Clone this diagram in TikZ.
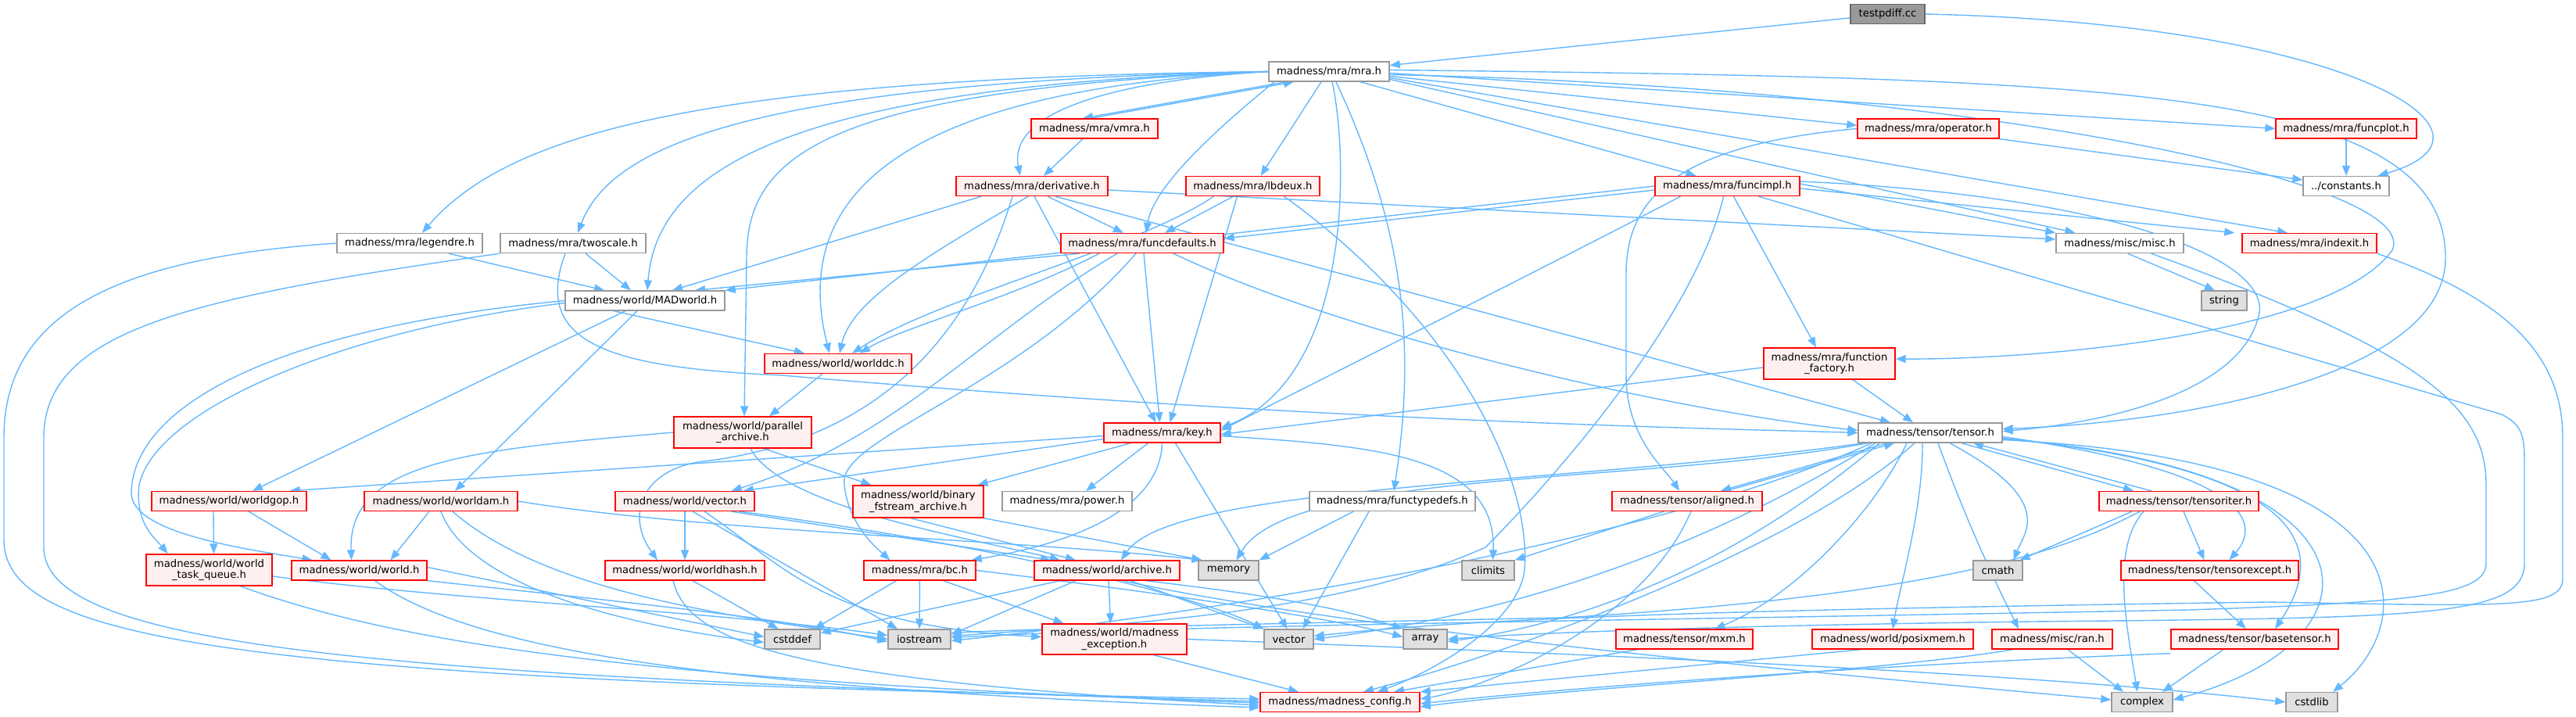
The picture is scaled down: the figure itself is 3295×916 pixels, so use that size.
\documentclass[tikz,border=0pt]{standalone}
\usepackage{fontspec}
\setmainfont{DejaVu Sans}
\usetikzlibrary{arrows.meta}
\definecolor{edgec}{RGB}{99,184,255}
\definecolor{redfill}{RGB}{255,240,240}
\definecolor{leaffill}{RGB}{224,224,224}
\definecolor{grayb}{RGB}{153,153,153}
\definecolor{rootfill}{RGB}{153,153,153}
\definecolor{rootb}{RGB}{102,102,102}
\pgfdeclarelayer{back}
\pgfdeclarelayer{bg}
\pgfsetlayers{back,bg,main}
\tikzset{
 nd/.style={draw, line width=1.4pt, inner sep=0pt, font=\fontsize{13.2}{14.5}\selectfont, align=center, minimum height=25pt},
 rednd/.style={nd, draw=red, fill=redfill},
 whnd/.style={nd, draw=grayb, fill=white},
 lfnd/.style={nd, draw=grayb, fill=leaffill},
 rtnd/.style={nd, draw=rootb, fill=rootfill},
 e/.style={draw=edgec, line width=1.4pt, -{Triangle[length=13pt,width=10pt]}},
}
\begin{document}
\begin{tikzpicture}[x=1pt,y=-1pt]
\begin{pgfonlayer}{back}
\fill[white] (0,0) rectangle (3295,916);
\end{pgfonlayer}
\useasboundingbox (0,0) rectangle (3295,916);
% nodes
\node[rtnd, minimum width=95pt] (test) at (2414.5,18) {testpdiff.cc};
\node[whnd, minimum width=154pt] (mra) at (1700,91.5) {madness/mra/mra.h};
\node[whnd, minimum width=186pt] (legendre) at (524,311) {madness/mra/legendre.h};
\node[whnd, minimum width=186pt] (twoscale) at (733,311) {madness/mra/twoscale.h};
\node[whnd, minimum width=204pt] (madworld) at (825,384.5) {madness/world/MADworld.h};
\node[rednd, minimum width=162pt] (vmra) at (1400,164.5) {madness/mra/vmra.h};
\node[rednd, minimum width=194pt] (deriv) at (1320,238) {madness/mra/derivative.h};
\node[rednd, minimum width=171pt] (lbdeux) at (1602.5,238) {madness/mra/lbdeux.h};
\node[rednd, minimum width=185pt] (funcimpl) at (2209.5,238) {madness/mra/funcimpl.h};
\node[rednd, minimum width=181pt] (operator) at (2466.5,164.5) {madness/mra/operator.h};
\node[rednd, minimum width=180pt] (funcplot) at (3001,164.5) {madness/mra/funcplot.h};
\node[whnd, minimum width=110pt] (const) at (3001,238) {../constants.h};
\node[rednd, minimum width=208pt] (funcdef) at (1461,311) {madness/mra/funcdefaults.h};
\node[whnd, minimum width=163pt] (misc) at (2711.5,311) {madness/misc/misc.h};
\node[rednd, minimum width=172pt] (indexit) at (2954,311) {madness/mra/indexit.h};
\node[lfnd, minimum width=58pt] (string) at (2845,384.5) {string};
\node[rednd, minimum width=188pt] (worlddc) at (1072,465) {madness/world/worlddc.h};
\node[rednd, minimum width=168pt, minimum height=40pt] (ffactory) at (2340,465) {madness/mra/function\\\_factory.h};
\node[rednd, minimum width=176pt, minimum height=40pt] (parch) at (950,553) {madness/world/parallel\\\_archive.h};
\node[rednd, minimum width=149pt] (key) at (1486.5,553.5) {madness/mra/key.h};
\node[whnd, minimum width=184pt] (tensor) at (2469,553.5) {madness/tensor/tensor.h};
\node[rednd, minimum width=198pt] (worldgop) at (293,641) {madness/world/worldgop.h};
\node[rednd, minimum width=196pt] (worldam) at (564,641) {madness/world/worldam.h};
\node[rednd, minimum width=178pt] (vech) at (876,641) {madness/world/vector.h};
\node[rednd, minimum width=167pt, minimum height=41pt] (binfs) at (1174.5,641.5) {madness/world/binary\\\_fstream\_archive.h};
\node[whnd, minimum width=166pt] (power) at (1365,641) {madness/mra/power.h};
\node[whnd, minimum width=212pt] (ftypedefs) at (1781,641) {madness/mra/functypedefs.h};
\node[rednd, minimum width=192pt] (aligned) at (2158,641) {madness/tensor/aligned.h};
\node[rednd, minimum width=204pt] (titer) at (2787,641) {madness/tensor/tensoriter.h};
\node[rednd, minimum width=161pt, minimum height=40pt] (wtq) at (267.5,729) {madness/world/world\\\_task\_queue.h};
\node[rednd, minimum width=173pt] (world) at (459.5,729.5) {madness/world/world.h};
\node[rednd, minimum width=204pt] (whash) at (876,729.5) {madness/world/worldhash.h};
\node[rednd, minimum width=143pt] (bc) at (1176.5,729.5) {madness/mra/bc.h};
\node[rednd, minimum width=186pt] (archive) at (1416,729.5) {madness/world/archive.h};
\node[lfnd, minimum width=77pt] (memory) at (1571.5,729.5) {memory};
\node[lfnd, minimum width=67pt] (climits) at (1903.5,729.5) {climits};
\node[lfnd, minimum width=63pt] (cmath) at (2555.5,729.5) {cmath};
\node[rednd, minimum width=227pt] (texcept) at (2826.5,729.5) {madness/tensor/tensorexcept.h};
\node[lfnd, minimum width=71pt] (cstddef) at (1013.5,817.5) {cstddef};
\node[lfnd, minimum width=80pt] (iostream) at (1176,817.5) {iostream};
\node[rednd, minimum width=185pt, minimum height=39pt] (mexc) at (1425.5,817.5) {madness/world/madness\\\_exception.h};
\node[lfnd, minimum width=63pt] (vector) at (1648.5,817.5) {vector};
\node[lfnd, minimum width=56pt] (array) at (1823,817.5) {array};
\node[rednd, minimum width=175pt] (mxm) at (2154.5,817.5) {madness/tensor/mxm.h};
\node[rednd, minimum width=206pt] (posixmem) at (2421,817.5) {madness/world/posixmem.h};
\node[rednd, minimum width=154pt] (ran) at (2625,817.5) {madness/misc/ran.h};
\node[rednd, minimum width=214pt] (btensor) at (2884,817.5) {madness/tensor/basetensor.h};
\node[rednd, minimum width=204pt] (config) at (1714,898) {madness/madness\_config.h};
\node[lfnd, minimum width=78pt] (complex) at (2740,898) {complex};
\node[lfnd, minimum width=66pt] (cstdlib) at (2957,898) {cstdlib};
% edges
\begin{pgfonlayer}{bg}
\draw[e] (test) -- (mra);
\draw[e] (test.east) .. controls (3000,30) and (3230,170) .. ([xshift=-15pt]const.north east);
% mra.h
\draw[e] (mra.west) .. controls (900,100) and (650,170) .. ([xshift=16pt]legendre.north);
\draw[e] (mra.west) .. controls (950,105) and (780,190) .. ([xshift=6pt]twoscale.north);
\draw[e] (mra.west) .. controls (1000,110) and (840,220) .. ([xshift=3pt]madworld.north);
\draw[e] (mra.west) .. controls (1050,115) and (955,200) .. (955,330) -- ([xshift=2pt]parch.north);
\draw[e] (mra.west) .. controls (1150,115) and (1010,250) .. ([xshift=-11pt]worlddc.north);
\draw[e] (mra.west) .. controls (1400,105) and (1290,150) .. ([xshift=-15pt]deriv.north);
\draw[e] ([xshift=-55pt]mra.south) -- ([xshift=-15pt]vmra.north);
\draw[e] ([xshift=-5pt]vmra.north) -- ([xshift=-45pt]mra.south);
\draw[e] ([xshift=-15pt]vmra.south) -- ([xshift=15pt]deriv.north);
\draw[e] ([xshift=-70pt]mra.south) .. controls (1550,170) and (1475,240) .. ([xshift=5pt]funcdef.north);
\draw[e] ([xshift=-10pt]mra.south) -- ([xshift=10pt]lbdeux.north);
\draw[e] ([xshift=4pt]mra.south) .. controls (1725,200) and (1730,480) .. ([yshift=6pt]key.east);
\draw[e] ([xshift=9pt]mra.south) .. controls (1800,300) and (1810,450) .. ([xshift=2pt]ftypedefs.north);
\draw[e] ([xshift=40pt]mra.south) -- ([xshift=-40pt]funcimpl.north);
\draw[e] ([yshift=-6pt]mra.east) -- ([yshift=4pt]operator.west);
\draw[e] ([yshift=-2pt]mra.east) -- (funcplot.west);
\draw[e] ([yshift=-8pt]mra.east) -- ([xshift=-28pt]indexit.north);
\draw[e] ([yshift=-10pt]mra.east) -- ([xshift=-57pt]misc.north);
\draw[e] ([yshift=2pt]mra.east) .. controls (2700,100) and (3128,110) .. (3128,330) .. controls (3128,480) and (2800,540) .. ([yshift=5pt]tensor.east);
\draw[e] ([yshift=-4pt]mra.east) .. controls (2500,110) and (3100,230) .. (3060,320) .. controls (2980,430) and (2600,460) .. ([yshift=6pt]ffactory.east);
% legendre, twoscale
\draw[e] ([xshift=50pt]legendre.south) -- ([xshift=-52pt]madworld.north);
\draw[e] (legendre.west) .. controls (150,330) and (5,400) .. (5,560) -- (5,690) .. controls (5,820) and (300,870) .. ([yshift=4pt]config.west);
\draw[e] ([xshift=16pt]twoscale.south) -- ([xshift=-18pt]madworld.north);
\draw[e] (twoscale.south west) .. controls (250,380) and (56,420) .. (56,560) -- (56,700) .. controls (56,830) and (500,865) .. ([yshift=1pt]config.west);
\draw[e] ([xshift=-10pt]twoscale.south) .. controls (680,440) and (780,470) .. (1000,480) .. controls (1700,540) and (2200,548) .. (tensor.west);
% MADworld
\draw[e] ([xshift=-40pt]madworld.south) -- ([xshift=-43pt]worlddc.north);
\draw[e] ([xshift=-25pt]madworld.south) -- ([xshift=30pt]worldgop.north);
\draw[e] ([xshift=-10pt]madworld.south) -- ([xshift=18pt]worldam.north);
\draw[e] (madworld.west) .. controls (350,420) and (170,520) .. (168,630) .. controls (168,680) and (300,700) .. ([xshift=-60pt]world.north);
\draw[e] ([yshift=-3pt]madworld.west) .. controls (450,420) and (200,520) .. (178,620) .. controls (172,670) and (200,690) .. ([xshift=-53pt]wtq.north);
% derivative
\draw[e] ([xshift=-65pt]deriv.south) -- ([xshift=35pt]madworld.north);
\draw[e] ([xshift=-5pt]deriv.south) .. controls (1200,320) and (1090,380) .. ([xshift=2pt]worlddc.north);
\draw[e] ([xshift=20pt]deriv.south) -- ([xshift=-24pt]funcdef.north);
\draw[e] ([xshift=3pt]deriv.south) -- ([xshift=-8pt]key.north);
\draw[e] ([xshift=30pt]deriv.south) -- ([xshift=-51pt]tensor.north);
\draw[e] ([yshift=-5pt]deriv.east) -- ([yshift=5pt]misc.west);
\draw[e] ([xshift=-25pt]deriv.south) .. controls (1250,400) and (1150,560) .. (900,590) .. controls (820,600) and (800,660) .. ([xshift=-35pt]whash.north);
% lbdeux
\draw[e] ([xshift=-50pt]lbdeux.south) .. controls (1450,320) and (1200,380) .. ([xshift=18pt]worlddc.north);
\draw[e] ([xshift=-25pt]lbdeux.south) -- ([xshift=29pt]funcdef.north);
\draw[e] ([xshift=-20pt]lbdeux.south) -- ([xshift=10pt]key.north);
\draw[e] ([xshift=40pt]lbdeux.south) .. controls (1850,400) and (1960,600) .. (1950,730) .. controls (1940,800) and (1830,860) .. ([xshift=48pt]config.north);
% funcdefaults
\draw[e] ([xshift=-80pt]funcdef.south) -- ([xshift=64pt]madworld.north);
\draw[e] ([xshift=-55pt]funcdef.south) .. controls (1300,380) and (1150,420) .. ([xshift=28pt]worlddc.north);
\draw[e] ([xshift=2pt]funcdef.south) -- ([xshift=-3pt]key.north);
\draw[e] ([xshift=40pt]funcdef.south) .. controls (1700,420) and (2100,520) .. ([yshift=3pt]tensor.west);
\draw[e] ([xshift=-32pt]funcdef.south) .. controls (1250,430) and (1150,560) .. ([xshift=-30pt]vech.north east);
\draw[e] ([xshift=-8pt]funcdef.south) .. controls (1300,500) and (1070,560) .. (1080,620) .. controls (1085,670) and (1120,700) .. ([xshift=-38pt]bc.north);
% funcimpl
\draw[e] (funcimpl.west) -- (madworld.north east);
\draw[e] ([yshift=-5pt]funcimpl.west) -- ([yshift=6pt]funcdef.east);
\draw[e] ([xshift=-60pt]funcimpl.south) .. controls (2000,330) and (1700,480) .. ([yshift=3pt]key.east);
\draw[e] ([xshift=8pt]funcimpl.south) -- ([xshift=-17pt]ffactory.north);
\draw[e] ([yshift=3pt]funcimpl.east) -- (misc.north west);
\draw[e] ([yshift=-3pt]funcimpl.east) -- ([xshift=-9pt]indexit.north west);
\draw[e] ([yshift=6pt]funcimpl.east) .. controls (2700,250) and (2900,330) .. (2890,400) .. controls (2870,500) and (2700,540) .. ([yshift=2pt]tensor.east);
\draw[e] ([xshift=40pt]funcimpl.south) -- (3200,530) .. controls (3229,545) and (3229,560) .. (3229,600) -- (3229,720) .. controls (3229,790) and (3100,790) .. (2600,795) .. controls (2200,800) and (1950,810) .. (array.east);
\draw[e] ([xshift=-5pt]funcimpl.south) .. controls (2170,400) and (2000,600) .. (1900,700) .. controls (1700,790) and (1400,800) .. ([yshift=4pt]iostream.east);
% operator, funcplot
\draw[e] (operator.south east) -- ([yshift=8pt]const.west);
\draw[e] (funcplot) -- (const);
\draw[e] (operator.west) .. controls (2150,185) and (2080,250) .. (2080,350) -- (2080,480) .. controls (2080,560) and (2130,600) .. ([xshift=-10pt]aligned.north);
% worlddc, parallel archive, function factory
\draw[e] ([xshift=-20pt]worlddc.south) -- ([xshift=34pt]parch.north);
\draw[e] (parch.west) .. controls (600,575) and (445,590) .. ([xshift=-10pt]world.north);
\draw[e] ([xshift=27pt]parch.south) -- ([xshift=-60pt]binfs.north);
\draw[e] ([xshift=10pt]parch.south) .. controls (1000,650) and (1250,690) .. ([xshift=-60pt]archive.north);
\draw[e] ([xshift=30pt]ffactory.south) -- ([xshift=-22pt]tensor.north);
\draw[e] ([yshift=-5pt]ffactory.west) -- ([yshift=-2pt]key.east);
% key
\draw[e] ([yshift=-4pt]key.west) -- ([xshift=-22pt]worldgop.north east);
\draw[e] ([yshift=-8pt]key.west) -- ([xshift=-15pt]vech.north east);
\draw[e] ([xshift=-40pt]key.south) -- ([xshift=76pt]binfs.north);
\draw[e] ([xshift=-18pt]key.south) -- ([xshift=24pt]power.north);
\draw[e] (key.south) .. controls (1484,640) and (1400,690) .. ([xshift=-6pt]bc.north east);
\draw[e] ([xshift=17pt]key.south) -- ([xshift=-2pt]vector.north);
\draw[e] ([yshift=-4pt]key.east) .. controls (1750,570) and (1915,580) .. ([xshift=6pt]climits.north);
% world layer
\draw[e] (vech) -- (whash);
\draw[e] ([xshift=-30pt]vech.south east) -- ([xshift=-72pt]archive.north);
\draw[e] ([xshift=-20pt]vech.south east) .. controls (1300,700) and (1550,770) .. (vector.north west);
\draw[e] ([xshift=25pt]vech.south) .. controls (1000,720) and (1050,800) .. ([yshift=3pt]mexc.west);
\draw[e] ([xshift=10pt]vech.south) -- ([xshift=-28pt]iostream.north);
\draw[e] ([xshift=10pt]whash.south) -- ([xshift=-18pt]cstddef.north);
\draw[e] ([xshift=-15pt]whash.south) .. controls (880,820) and (1000,870) .. ([yshift=-4pt]config.west);
\draw[e] ([xshift=-10pt]binfs.south) -- ([xshift=-40pt]archive.north);
\draw[e] (binfs.south east) -- ([xshift=-34pt]memory.north);
\draw[e] ([xshift=-30pt]bc.south) -- ([xshift=28pt]cstddef.north);
\draw[e] (bc) -- (iostream);
\draw[e] ([xshift=30pt]bc.south) -- ([xshift=-65pt]mexc.north);
\draw[e] (bc.east) .. controls (1500,760) and (1700,790) .. ([yshift=3pt]array.west);
\draw[e] ([xshift=-60pt]archive.south) -- ([yshift=8pt]cstddef.east);
\draw[e] ([xshift=-40pt]archive.south) -- ([yshift=6pt]iostream.east);
\draw[e] ([xshift=2pt]archive.south) -- ([xshift=-5pt]mexc.north);
\draw[e] ([xshift=30pt]archive.south) -- (vector.north west);
\draw[e] ([xshift=50pt]archive.south) .. controls (1700,770) and (1750,790) .. (array.north west);
\draw[e] ([xshift=20pt]archive.south) .. controls (1700,800) and (2200,850) .. ([yshift=3pt]complex.west);
\draw[e] ([xshift=50pt]mexc.south) -- ([xshift=-53pt]config.north);
\draw[e] (mexc.east) .. controls (2000,835) and (2600,860) .. (cstdlib.west);
\draw[e] ([xshift=-30pt]ftypedefs.south) -- ([xshift=18pt]vector.north);
\draw[e] ([xshift=-50pt]ftypedefs.south) -- (memory.north east);
\draw[e] ([xshift=-30pt]aligned.south) -- (climits.north east);
\draw[e] ([xshift=5pt]aligned.south) .. controls (2100,800) and (1900,880) .. ([yshift=4pt]config.east);
% left world nodes
\draw[e] ([yshift=-8pt]wtq.east) .. controls (600,770) and (900,780) .. ([yshift=5pt]iostream.west);
\draw[e] ([xshift=40pt]wtq.south) .. controls (500,820) and (800,870) .. ([yshift=-1pt]config.west);
\draw[e] ([yshift=4pt]world.east) -- ([yshift=3pt]cstddef.west);
\draw[e] (world.south east) .. controls (800,770) and (1000,790) .. ([yshift=-3pt]iostream.west);
\draw[e] ([xshift=20pt]world.south) .. controls (600,830) and (900,880) .. ([yshift=-7pt]config.west);
\draw[e] ([xshift=-15pt]worldam.south) -- ([xshift=40pt]world.north);
\draw[e] (worldam.south) .. controls (600,750) and (800,800) .. ([yshift=-4pt]cstddef.west);
\draw[e] ([xshift=15pt]worldam.south) .. controls (700,760) and (950,790) .. (iostream.west);
\draw[e] (worldam.east) .. controls (900,680) and (1300,690) .. ([xshift=-34pt]memory.north);
\draw[e] ([xshift=-20pt]worldgop.south) -- ([xshift=6pt]wtq.north);
\draw[e] ([xshift=25pt]worldgop.south) -- ([xshift=-36pt]world.north);
% tensor
\draw[e] ([xshift=-55pt]tensor.south) -- ([xshift=43pt]aligned.north);
\draw[e] ([xshift=50pt]aligned.north) -- ([xshift=-46pt]tensor.south);
\draw[e] ([xshift=40pt]tensor.south) -- ([xshift=-58pt]titer.north);
\draw[e] ([xshift=-35pt]titer.north) -- ([xshift=55pt]tensor.south);
\draw[e] ([xshift=-30pt]tensor.south) .. controls (2400,650) and (2300,760) .. ([xshift=39pt]mxm.north);
\draw[e] ([xshift=-10pt]tensor.south) .. controls (2460,650) and (2430,750) .. (posixmem.north);
\draw[e] ([xshift=10pt]tensor.south) .. controls (2520,680) and (2560,760) .. ([xshift=-43pt]ran.north);
\draw[e] ([xshift=25pt]tensor.south) .. controls (2630,640) and (2590,680) .. ([xshift=20pt]cmath.north);
\draw[e] ([yshift=-5pt]tensor.east) .. controls (2850,600) and (2900,660) .. ([xshift=25pt]texcept.north);
\draw[e] ([yshift=-7pt]tensor.east) .. controls (2950,600) and (2980,700) .. ([xshift=26pt]btensor.north);
\draw[e] ([yshift=-8pt]tensor.east) .. controls (3060,600) and (3060,820) .. ([yshift=3pt]complex.east);
\draw[e] ([yshift=-9pt]tensor.east) .. controls (3120,590) and (3090,800) .. ([xshift=27pt]cstdlib.north);
\draw[e] ([xshift=-80pt]tensor.south) .. controls (2100,620) and (1650,600) .. ([xshift=10pt]memory.north);
\draw[e] ([xshift=-85pt]tensor.south) .. controls (2000,620) and (1500,620) .. ([xshift=18pt]archive.north);
\draw[e] ([xshift=-75pt]tensor.south) .. controls (2100,700) and (1500,790) .. ([yshift=-2pt]iostream.east);
\draw[e] ([xshift=-70pt]tensor.south) .. controls (2150,720) and (1900,790) .. (vector.east);
\draw[e] ([xshift=-65pt]tensor.south) .. controls (2200,740) and (2000,800) .. ([yshift=-3pt]array.east);
\draw[e] ([xshift=-20pt]tensor.south) .. controls (2300,700) and (1950,830) .. ([xshift=30pt]config.north);
\draw[e] ([xshift=-60pt]titer.south) -- ([xshift=28pt]cmath.north);
\draw[e] ([xshift=6pt]titer.south) -- ([xshift=-7pt]texcept.north);
\draw[e] ([xshift=-45pt]titer.south) .. controls (2700,700) and (2720,800) .. ([xshift=-6pt]complex.north);
\draw[e] ([xshift=-50pt]titer.south) .. controls (2650,700) and (2500,760) .. (2000,790) .. controls (1500,800) and (1300,805) .. ([yshift=8pt]iostream.east);
\draw[e] ([xshift=-20pt]texcept.south) -- ([xshift=-11pt]btensor.north);
\draw[e] ([xshift=-40pt]btensor.south) -- ([xshift=26pt]complex.north);
\draw[e] ([yshift=-5pt]btensor.south west) .. controls (2400,850) and (2000,880) .. ([yshift=-2pt]config.east);
\draw[e] ([xshift=20pt]ran.south) -- ([xshift=-24pt]complex.north);
\draw[e] ([xshift=-50pt]ran.south) .. controls (2400,860) and (2000,880) .. ([yshift=-6pt]config.east);
\draw[e] ([xshift=-40pt]posixmem.south) -- (config.north east);
\draw[e] ([xshift=-60pt]mxm.south) -- ([xshift=69pt]config.north);
% misc, indexit
\draw[e] ([xshift=10pt]misc.south) -- ([xshift=-12pt]string.north);
\draw[e] ([xshift=40pt]misc.south) .. controls (3100,450) and (3180,520) .. (3180,620) -- (3180,720) .. controls (3180,760) and (3100,770) .. (2800,780) .. controls (2000,795) and (1500,800) .. ([yshift=2pt]iostream.east);
\draw[e] (indexit.south east) .. controls (3200,380) and (3278,450) .. (3278,560) -- (3278,740) .. controls (3278,780) and (3200,775) .. (2900,770) .. controls (2200,780) and (1900,790) .. ([yshift=4pt]vector.east);
\end{pgfonlayer}
\end{tikzpicture}
\end{document}
